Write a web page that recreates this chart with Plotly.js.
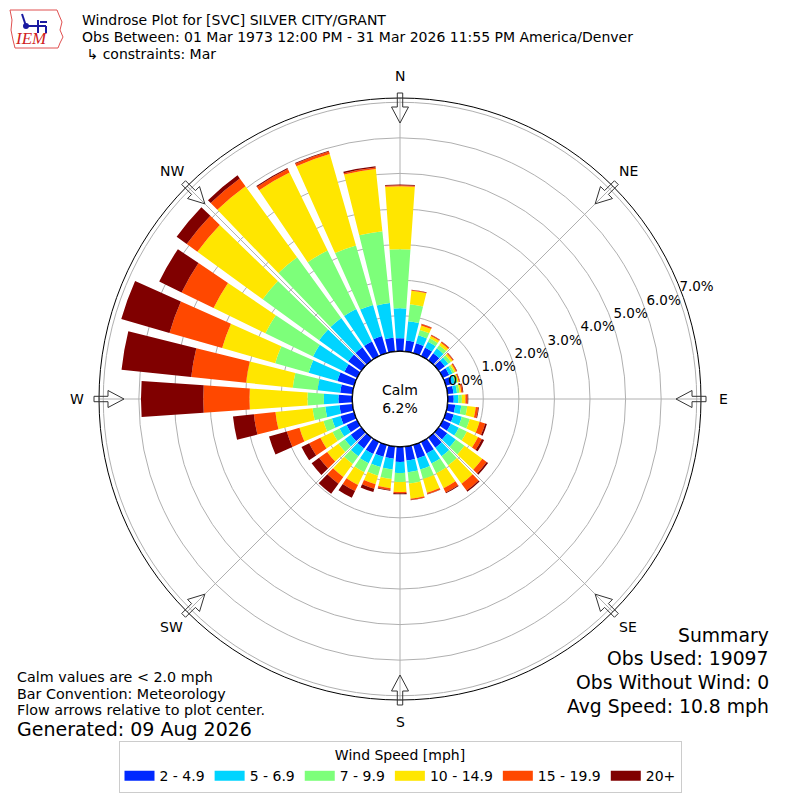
<!DOCTYPE html>
<html>
<head>
<meta charset="utf-8">
<script src="https://cdn.plot.ly/plotly-3.0.1.min.js"></script>
<style>
html,body{margin:0;padding:0;background:#fff;}
#chart{width:800px;height:800px;}
</style>
</head>
<body>
<div id="chart"></div>
<script>
// ---- data (percent of observations) ----
const directions = [0,10,20,30,40,50,60,70,80,90,100,110,120,130,140,150,160,170,
                    180,190,200,210,220,230,240,250,260,270,280,290,300,310,320,330,340,350];
const speedBins = ['2 - 4.9','5 - 6.9','7 - 9.9','10 - 14.9','15 - 19.9','20+'];
const binColors = ['#0028ff','#00d4ff','#7dff7a','#ffe600','#ff4800','#800000'];

const pct_2_5   = [0.37,0.31,0.29,0.27,0.25,0.22,0.20,0.18,0.17,0.17,0.22,0.23,0.25,0.30,0.35,0.36,0.40,0.40,
                   0.43,0.35,0.35,0.38,0.38,0.37,0.33,0.40,0.37,0.39,0.35,0.49,0.40,0.46,0.46,0.46,0.50,0.39];
const pct_5_7   = [0.84,0.55,0.23,0.18,0.17,0.12,0.10,0.10,0.10,0.13,0.17,0.24,0.25,0.30,0.30,0.32,0.32,0.33,
                   0.31,0.30,0.30,0.29,0.27,0.21,0.22,0.25,0.40,0.41,0.64,0.84,0.98,1.01,1.01,1.01,0.91,0.98];
const pct_7_10  = [1.66,0.48,0.16,0.11,0.11,0.09,0.06,0.06,0.07,0.10,0.17,0.23,0.25,0.30,0.31,0.30,0.28,0.32,
                   0.25,0.27,0.25,0.28,0.27,0.22,0.22,0.25,0.36,0.46,0.70,0.98,1.49,1.96,2.11,1.83,1.74,2.03];
const pct_10_15 = [1.77,0.38,0.13,0.07,0.08,0.06,0.05,0.04,0.05,0.10,0.24,0.29,0.35,0.62,0.64,0.47,0.40,0.43,
                   0.28,0.26,0.25,0.40,0.45,0.39,0.38,0.70,1.05,1.63,1.32,1.55,1.62,2.27,2.47,2.44,2.67,1.76];
const pct_15_20 = [0.03,0.02,0.04,0.03,0.04,0.03,0.03,0.03,0.04,0.06,0.07,0.16,0.12,0.15,0.24,0.13,0.04,0.03,
                   0.04,0.05,0.13,0.19,0.23,0.28,0.35,0.37,0.61,1.30,1.55,1.54,1.00,0.37,0.27,0.11,0.08,0.04];
const pct_20up  = [0.02,0.01,0.01,0.01,0.01,0.01,0.01,0.01,0.02,0.02,0.02,0.05,0.07,0.05,0.04,0.03,0.01,0.01,
                   0.03,0.02,0.10,0.21,0.35,0.26,0.24,0.52,0.59,1.75,1.97,1.41,0.70,0.35,0.11,0.03,0.02,0.04];
const binValues = [pct_2_5, pct_5_7, pct_7_10, pct_10_15, pct_15_20, pct_20up];

const compassVals = [0,45,90,135,180,225,270,315];
const compassText = ['N','NE','E','SE','S','SW','W','NW'];
const radialVals  = [0,1,2,3,4,5,6,7];
const radialText  = ['0.0%','1.0%','2.0%','3.0%','4.0%','5.0%','6.0%','7.0%'];
const radialLabelBearing = 68;
const calmPct = 6.2;

const titleLines = ['Windrose Plot for [SVC] SILVER CITY/GRANT',
  'Obs Between: 01 Mar 1973 12:00 PM - 31 Mar 2026 11:55 PM America/Denver',
  ' \u21b3 constraints: Mar'];
const noteLines = ['Calm values are < 2.0 mph','Bar Convention: Meteorology','Flow arrows relative to plot center.'];
const generatedText = 'Generated: 09 Aug 2026';
const summaryLines = ['Summary','Obs Used: 19097','Obs Without Wind: 0','Avg Speed: 10.8 mph'];

// ---- layout helpers (pixel -> paper) ----
const W = 800, H = 800, CX = 400, CY = 399, R = 301;
const px = x => x / W;
const py = y => 1 - y / H;
const FONT = 'DejaVu Sans, Verdana, sans-serif';

const traces = binValues.map((vals, i) => ({
  type: 'barpolar',
  name: speedBins[i],
  legendgroup: speedBins[i],
  showlegend: false,
  r: vals,
  theta: directions,
  width: 8,
  marker: {color: binColors[i], line: {width: 0}},
  hoverinfo: 'skip'
}));

// legend swatches (wide rectangles) - a single empty point, nothing drawn
speedBins.forEach((name, i) => traces.push({
  type: 'scatterpolar', mode: 'lines', name: name, legendgroup: name,
  r: [null], theta: [null], line: {color: binColors[i], width: 10}, hoverinfo: 'skip'
}));

// calm circle edge
const ring = [];
for (let a = 0; a <= 360; a += 2) ring.push(a);
traces.push({
  type: 'scatterpolar', mode: 'lines', r: ring.map(() => 0), theta: ring,
  line: {color: 'black', width: 1.5}, showlegend: false, hoverinfo: 'skip', cliponaxis: false
});

// radial tick labels
traces.push({
  type: 'scatterpolar', mode: 'text', r: radialVals, theta: radialVals.map(() => radialLabelBearing),
  text: radialText.map(t => '\u00a0' + t), textposition: 'middle right', cliponaxis: false,
  textfont: {family: FONT, size: 13.5, color: 'black'}, showlegend: false, hoverinfo: 'skip'
});

// compass arrows (decoration)
function arrowPath(bearing) {
  const t = bearing * Math.PI / 180;
  const ux = Math.sin(t), uy = -Math.cos(t), vx = Math.cos(t), vy = Math.sin(t);
  const pts = [[306,-2.7],[292,-2.7],[292,-8.5],[276,0],[292,8.5],[292,2.7],[306,2.7]];
  return pts.map((p, k) => {
    const X = CX + p[0]*ux + p[1]*vx, Y = CY + p[0]*uy + p[1]*vy;
    return (k ? 'L' : 'M') + px(X).toFixed(5) + ',' + py(Y).toFixed(5);
  }).join(' ') + ' Z';
}
const shapes = compassVals.map(b => ({
  type: 'path', xref: 'paper', yref: 'paper', path: arrowPath(b),
  line: {color: '#333333', width: 1}, fillcolor: 'rgba(255,255,255,0)', layer: 'above'
}));

// IEM logo approximation
const logoPath = [[10,10],[57,10],[59,15],[62,22],[60,30],[63,37],[60,43],[58,48],[15,48],[13,40],[11,30],[12,20]]
  .map((p,k)=> (k?'L':'M') + px(p[0]).toFixed(5) + ',' + py(p[1]).toFixed(5)).join(' ') + ' Z';
shapes.push({type:'path', xref:'paper', yref:'paper', path: logoPath, line:{color:'#e05050', width:1}});
[[[25,26],[46,26]],[[38,20],[38,33]],[[40,22],[47,22]],[[22,14],[26,26]],[[46,26],[46,33]]].forEach(seg => {
  shapes.push({type:'line', xref:'paper', yref:'paper', x0:px(seg[0][0]), y0:py(seg[0][1]),
    x1:px(seg[1][0]), y1:py(seg[1][1]), line:{color:'#1a1aa0', width:2}});
});
shapes.push({type:'circle', xref:'paper', yref:'paper', x0:px(23), x1:px(29), y0:py(29), y1:py(23),
  fillcolor:'#1a1aa0', line:{width:0}});

const annotations = [];
// compass labels around the rose
compassVals.forEach((b, i) => {
  const t = b * Math.PI / 180, rl = 323;
  annotations.push({xref:'paper', yref:'paper', x:px(CX + rl*Math.sin(t)), y:py(CY - rl*Math.cos(t)),
    text: compassText[i], showarrow:false, xanchor:'center', yanchor:'middle',
    font:{family:FONT, size:14, color:'black'}});
});
titleLines.forEach((t, i) => annotations.push({
  xref:'paper', yref:'paper', x:px(80), y:py(20 + i*17), text:t, showarrow:false,
  xanchor:'left', yanchor:'middle', font:{family:FONT, size:14, color:'black'}
}));
annotations.push({xref:'paper', yref:'paper', x:px(31), y:py(39), text:'<i>IEM</i>', showarrow:false,
  xanchor:'center', yanchor:'middle', font:{family:'Liberation Serif, serif', size:17, color:'#d02020'}});
noteLines.forEach((t, i) => annotations.push({
  xref:'paper', yref:'paper', x:px(15), y:py(677 + i*16.5), text:t, showarrow:false,
  xanchor:'left', yanchor:'middle', font:{family:FONT, size:14.3, color:'black'}
}));
annotations.push({xref:'paper', yref:'paper', x:px(15), y:py(729), text:generatedText, showarrow:false,
  xanchor:'left', yanchor:'middle', font:{family:FONT, size:19, color:'black'}});
summaryLines.forEach((t, i) => annotations.push({
  xref:'paper', yref:'paper', x:px(771), y:py(635 + i*23.7), text:t, showarrow:false,
  xanchor:'right', yanchor:'middle', font:{family:FONT, size:18.8, color:'black'}
}));
annotations.push({xref:'paper', yref:'paper', x:px(CX), y:py(CY), text:'Calm<br>' + calmPct.toFixed(1) + '%',
  showarrow:false, xanchor:'center', yanchor:'middle', font:{family:FONT, size:14, color:'black'}});

const layout = {
  width: W, height: H,
  margin: {l:0, r:0, t:0, b:0},
  paper_bgcolor: 'white',
  font: {family: FONT, size: 13, color: 'black'},
  showlegend: true,
  legend: {
    orientation: 'h', x: 0.5, xanchor: 'center', y: py(741), yanchor: 'top',
    bordercolor: '#cccccc', borderwidth: 1, bgcolor: 'white',
    title: {text: 'Wind Speed [mph]', side: 'top center', font: {family: FONT, size: 14}},
    font: {family: FONT, size: 14}, traceorder: 'normal', itemclick: false, itemwidth: 30
  },
  polar: {
    domain: {x: [px(CX - R), px(CX + R)], y: [py(CY + R), py(CY - R)]},
    bgcolor: 'white',
    hole: 47.7 / R,
    barmode: 'stack',
    layer: 'above traces',
    radialaxis: {
      range: [0, 7.12], tickvals: radialVals, showticklabels: false,
      showline: false, ticks: '',
      gridcolor: '#b0b0b0', gridwidth: 1
    },
    angularaxis: {
      rotation: 90, direction: 'clockwise',
      tickvals: compassVals, showticklabels: false,
      showgrid: true, gridcolor: '#b0b0b0', gridwidth: 1,
      showline: true, linecolor: 'black', linewidth: 1, ticks: ''
    }
  },
  shapes: shapes,
  annotations: annotations
};

Plotly.newPlot('chart', traces, layout, {displayModeBar: false, staticPlot: true});
</script>
</body>
</html>
